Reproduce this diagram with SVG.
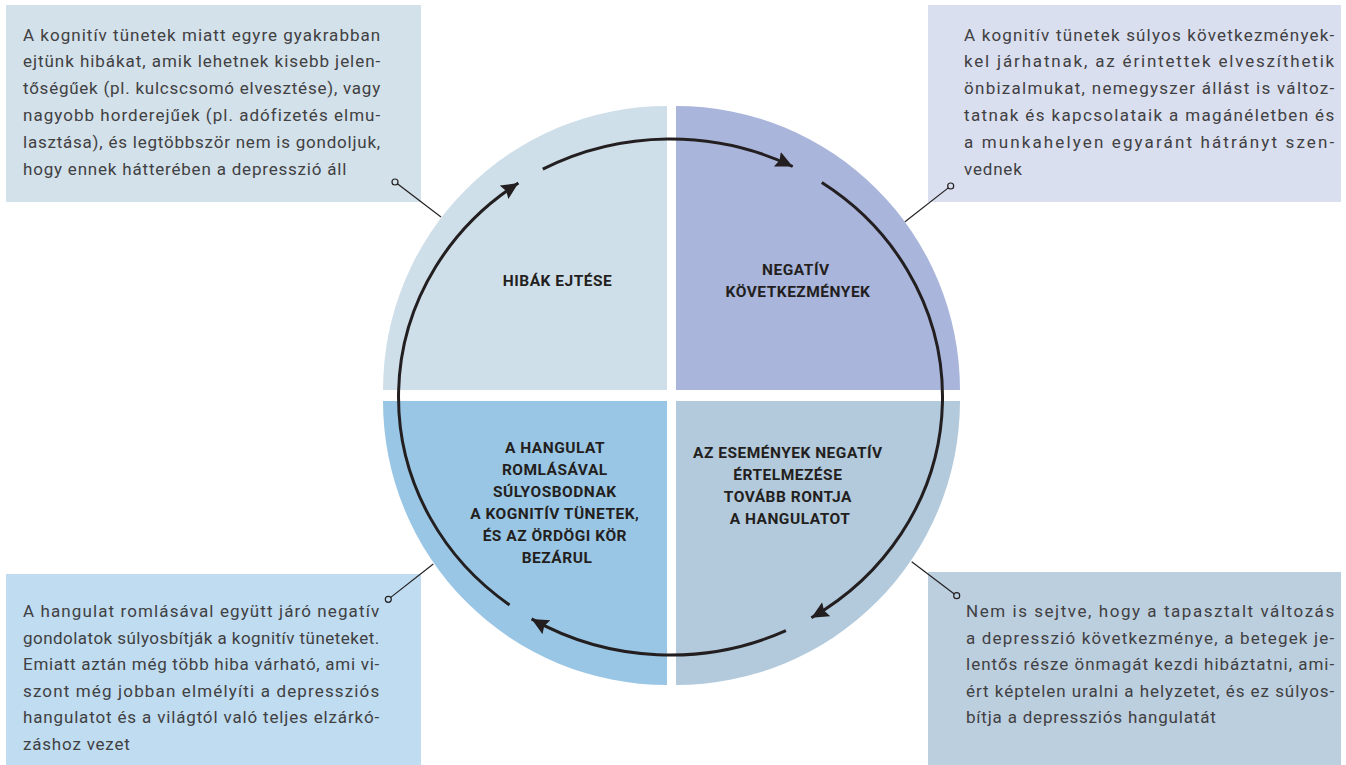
<svg xmlns="http://www.w3.org/2000/svg" width="1346" height="765" viewBox="0 0 1346 765">
  <style>
    .body { font-family: Roboto, "Liberation Sans", sans-serif; font-size: 17px; fill: #414042; letter-spacing: 0.8px; }
    .label { font-family: Roboto, "Liberation Sans", sans-serif; font-size: 15.5px; font-weight: bold; fill: #231f20; text-anchor: middle; letter-spacing: 0.5px; }
    .cycle { fill: none; stroke: #231f20; stroke-width: 3; }
    .lead { stroke: #231f20; stroke-width: 1.2; fill: none; }
  </style>
  <defs>
    <marker id="head" markerUnits="userSpaceOnUse" markerWidth="22" markerHeight="20" refX="17" refY="8" orient="auto">
      <path d="M0,0 L17,8 L0,16 L2.5,8 Z" fill="#231f20"/>
    </marker>
  </defs>

  <rect width="1346" height="765" fill="#ffffff"/>

  <!-- explanatory text boxes -->
  <g id="box-hibak">
    <rect x="6" y="5" width="415" height="197" fill="#d3e1ea"/>
    <text class="body">
      <tspan x="23" y="40.5" textLength="358" lengthAdjust="spacing">A kognitív tünetek miatt egyre gyakrabban</tspan>
      <tspan x="23" y="67.3" textLength="358" lengthAdjust="spacing">ejtünk hibákat, amik lehetnek kisebb jelen-</tspan>
      <tspan x="23" y="94.1" textLength="358" lengthAdjust="spacing">tőségűek (pl. kulcscsomó elvesztése), vagy</tspan>
      <tspan x="23" y="120.9" textLength="358" lengthAdjust="spacing">nagyobb horderejűek (pl. adófizetés elmu-</tspan>
      <tspan x="23" y="147.7" textLength="358" lengthAdjust="spacing">lasztása), és legtöbbször nem is gondoljuk,</tspan>
      <tspan x="23" y="174.5">hogy ennek hátterében a depresszió áll</tspan>
    </text>
  </g>
  <g id="box-kovetkezmenyek">
    <rect x="928" y="5" width="413" height="197" fill="#d9dfef"/>
    <text class="body">
      <tspan x="964" y="40.5" textLength="371" lengthAdjust="spacing">A kognitív tünetek súlyos következmények-</tspan>
      <tspan x="964" y="67.3" textLength="371" lengthAdjust="spacing">kel járhatnak, az érintettek elveszíthetik</tspan>
      <tspan x="964" y="94.1" textLength="371" lengthAdjust="spacing">önbizalmukat, nemegyszer állást is változ-</tspan>
      <tspan x="964" y="120.9" textLength="371" lengthAdjust="spacing">tatnak és kapcsolataik a magánéletben és</tspan>
      <tspan x="964" y="147.7" textLength="371" lengthAdjust="spacing">a munkahelyen egyaránt hátrányt szen-</tspan>
      <tspan x="964" y="174.5">vednek</tspan>
    </text>
  </g>
  <g id="box-hangulat">
    <rect x="6" y="574" width="415" height="191" fill="#bfdcf0"/>
    <text class="body">
      <tspan x="23" y="617" textLength="357" lengthAdjust="spacing">A hangulat romlásával együtt járó negatív</tspan>
      <tspan x="23" y="643.6" textLength="357" lengthAdjust="spacing">gondolatok súlyosbítják a kognitív tüneteket.</tspan>
      <tspan x="23" y="670.2" textLength="357" lengthAdjust="spacing">Emiatt aztán még több hiba várható, ami vi-</tspan>
      <tspan x="23" y="696.8" textLength="357" lengthAdjust="spacing">szont még jobban elmélyíti a depressziós</tspan>
      <tspan x="23" y="723.4" textLength="357" lengthAdjust="spacing">hangulatot és a világtól való teljes elzárkó-</tspan>
      <tspan x="23" y="750">záshoz vezet</tspan>
    </text>
  </g>
  <g id="box-ertelmezes">
    <rect x="928" y="572" width="413" height="193" fill="#bccfdf"/>
    <text class="body">
      <tspan x="966" y="617" textLength="369" lengthAdjust="spacing">Nem is sejtve, hogy a tapasztalt változás</tspan>
      <tspan x="966" y="643.6" textLength="369" lengthAdjust="spacing">a depresszió következménye, a betegek je-</tspan>
      <tspan x="966" y="670.2" textLength="369" lengthAdjust="spacing">lentős része önmagát kezdi hibáztatni, ami-</tspan>
      <tspan x="966" y="696.8" textLength="369" lengthAdjust="spacing">ért képtelen uralni a helyzetet, és ez súlyos-</tspan>
      <tspan x="966" y="723.4">bítja a depressziós hangulatát</tspan>
    </text>
  </g>

  <!-- four quarter segments of the cycle disc -->
  <g id="q-hibak">
    <path d="M667,390 L383,390 A284,284 0 0,1 667,106 Z" fill="#cfdfea"/>
    <text class="label" x="557.5" y="286">HIBÁK EJTÉSE</text>
  </g>
  <g id="q-negativ">
    <path d="M676,390 L676,106 A284,284 0 0,1 960,390 Z" fill="#a9b5db"/>
    <text class="label">
      <tspan x="798" y="275">NEGATÍV</tspan>
      <tspan x="798" y="296.7">KÖVETKEZMÉNYEK</tspan>
    </text>
  </g>
  <g id="q-ertelmezes">
    <path d="M676,401 L960,401 A284,284 0 0,1 676,685 Z" fill="#b3cadc"/>
    <text class="label">
      <tspan x="790" y="458.3">AZ ESEMÉNYEK NEGATÍV</tspan>
      <tspan x="790" y="480.3">ÉRTELMEZÉSE</tspan>
      <tspan x="790" y="502.3">TOVÁBB RONTJA</tspan>
      <tspan x="790" y="524.3">A HANGULATOT</tspan>
    </text>
  </g>
  <g id="q-hangulat">
    <path d="M667,401 L667,685 A284,284 0 0,1 383,401 Z" fill="#9ac6e5"/>
    <text class="label">
      <tspan x="557" y="453.3">A HANGULAT</tspan>
      <tspan x="557" y="475.2">ROMLÁSÁVAL</tspan>
      <tspan x="557" y="497.1">SÚLYOSBODNAK</tspan>
      <tspan x="557" y="519">A KOGNITÍV TÜNETEK,</tspan>
      <tspan x="557" y="540.9">ÉS AZ ÖRDÖGI KÖR</tspan>
      <tspan x="557" y="562.8">BEZÁRUL</tspan>
    </text>
  </g>

  <!-- cycle arrows and callout leaders -->
  <g id="connectors">
    <path class="cycle" d="M509.5,604.9 A272,258 0 0,1 518.4,183.1" marker-end="url(#head)"/>
    <path class="cycle" d="M542.8,169.2 A272,258 0 0,1 792.7,166.5" marker-end="url(#head)"/>
    <path class="cycle" d="M821.8,182.6 A272,258 0 0,1 811.4,617.7" marker-end="url(#head)"/>
    <path class="cycle" d="M785.9,630.6 A272,258 0 0,1 531.6,618.9" marker-end="url(#head)"/>

    <line class="lead" x1="397.4" y1="183.8" x2="441" y2="217"/>
    <circle class="lead" cx="395" cy="182" r="3" fill="#d3e1ea"/>
    <line class="lead" x1="948.3" y1="187.9" x2="905" y2="221.7"/>
    <circle class="lead" cx="950.7" cy="186" r="3" fill="#d9dfef"/>
    <line class="lead" x1="390.7" y1="597.4" x2="433.3" y2="564"/>
    <circle class="lead" cx="388.3" cy="599.3" r="3" fill="#bfdcf0"/>
    <line class="lead" x1="954.3" y1="593.9" x2="911.7" y2="561.7"/>
    <circle class="lead" cx="956.7" cy="595.7" r="3" fill="#bccfdf"/>
  </g>
</svg>
